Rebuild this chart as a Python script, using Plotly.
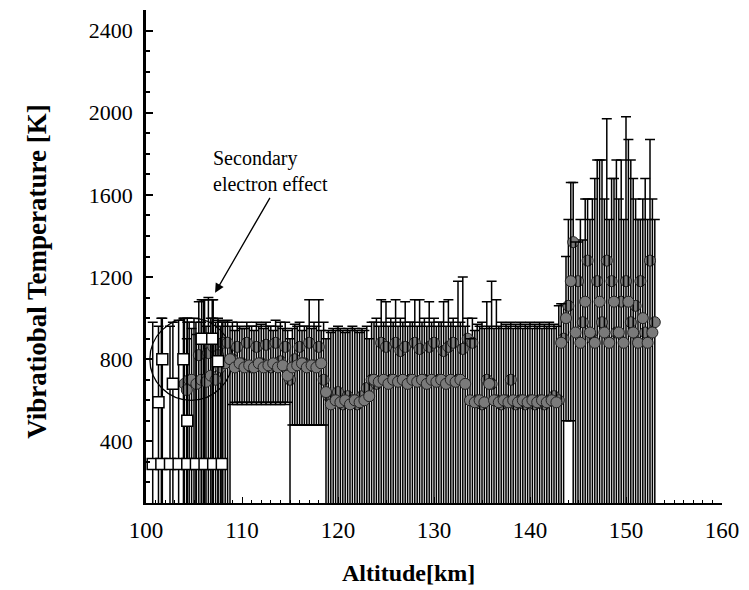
import plotly.graph_objects as go

# ---- filled-marker series A (altitude km, temperature K, upper end, lower end of error bar)
alt_a = [104.0, 104.5, 105.0, 105.5, 106.0, 106.5, 107.0, 107.5, 108.0,
         108.5, 109.0,
         109.5, 110.0, 110.5, 111.0, 111.5, 112.0, 112.5, 113.0, 113.5, 114.0, 114.5,
         115.0,
         115.5, 116.0, 116.5, 117.0, 117.5, 118.0, 118.5,
         119.0, 119.5, 120.0, 120.5, 121.0, 121.5, 122.0, 122.5, 123.0,
         123.5, 124.0, 124.5, 125.0, 125.5, 126.0, 126.5, 127.0, 127.5, 128.0, 128.5,
         129.0, 129.5, 130.0, 130.5, 131.0, 131.5, 132.0, 132.5, 133.0, 133.5,
         134.0, 134.5, 135.0, 135.5, 136.0, 136.5, 137.0, 137.5, 138.0, 138.5,
         139.0, 139.5, 140.0, 140.5, 141.0, 141.5, 142.0, 142.5, 143.0,
         143.5, 144.0, 144.5, 145.0, 145.5, 146.0, 146.5, 147.0, 147.5, 148.0,
         148.5, 149.0, 149.5, 150.0, 150.5, 151.0, 151.5, 152.0, 152.5, 153.0]
temp_a = [680, 700, 690, 820, 700, 830, 860, 820, 880,
          880, 800,
          860, 780, 880, 760, 860, 780, 870, 760, 880, 790, 860,
          700,
          800, 860, 780, 880, 770, 860, 700,
          620, 600, 640, 580, 620, 600, 580, 620, 660,
          700, 680, 880, 860, 700, 880, 840, 860, 700, 880, 850,
          700, 860, 880, 700, 840, 860, 880, 700, 850, 900,
          880, 600, 580, 700, 680, 600, 580, 600, 700, 580,
          600, 580, 600, 580, 600, 580, 600, 620, 600,
          900, 1060, 1370, 1180, 980, 1280, 900, 1180, 980, 1280,
          1180, 930, 1080, 1180, 980, 1060, 1180, 930, 1280, 980]
top_a = [1000, 980, 1000, 1080, 1090, 1100, 1000, 990, 980,
         990, 980,
         980, 950, 980, 960, 980, 970, 980, 960, 990, 980, 980,
         900,
         970, 980, 960, 1090, 980, 1090, 980,
         940, 950, 960, 940, 950, 960, 940, 950, 960,
         980, 1000, 1090, 1080, 1000, 1090, 1000, 1080, 980, 1090, 1090,
         1000, 1080, 1000, 980, 1080, 1090, 1000, 1180, 1200, 1000,
         1000, 970, 980, 1080, 1180, 1090, 980, 970, 980, 970,
         980, 970, 980, 970, 980, 970, 980, 970, 1060,
         1070, 1480, 1660, 1370, 1380, 1580, 1580, 1770, 1770, 1970,
         1680, 1770, 1770, 1980, 1770, 1580, 1480, 1680, 1870, 1480]
low_a = [0, 0, 0, 0, 0, 0, 0, 0, 0,
         0, 580,
         580, 580, 580, 580, 580, 580, 580, 580, 580, 580, 580,
         0,
         480, 480, 480, 480, 480, 480, 480,
         0, 0, 0, 0, 0, 0, 0, 0, 0,
         0, 0, 0, 0, 0, 0, 0, 0, 0, 0, 0,
         0, 0, 0, 0, 0, 0, 0, 0, 0, 0,
         0, 0, 0, 0, 0, 0, 0, 0, 0, 0,
         0, 0, 0, 0, 0, 0, 0, 0, 0,
         0, 500, 0, 0, 0, 0, 0, 0, 0, 0,
         0, 0, 0, 0, 0, 0, 0, 0, 0, 0]

# ---- filled-marker series B
alt_b = [104.25, 104.75, 105.25, 105.75, 106.25, 106.75, 107.25, 107.75, 108.25, 108.75,
         109.25, 109.75, 110.25, 110.75, 111.25, 111.75, 112.25, 112.75, 113.25, 113.75, 114.25,
         114.75,
         115.25, 115.75, 116.25, 116.75, 117.25, 117.75, 118.25, 118.75,
         119.25, 119.75, 120.25, 120.75, 121.25, 121.75, 122.25, 122.75,
         123.25, 123.75, 124.25, 124.75, 125.25, 125.75, 126.25, 126.75, 127.25, 127.75, 128.25,
         128.75, 129.25, 129.75, 130.25, 130.75, 131.25, 131.75, 132.25, 132.75, 133.25, 133.75,
         134.25, 134.75, 135.25, 135.75, 136.25, 136.75, 137.25, 137.75, 138.25, 138.75,
         139.25, 139.75, 140.25, 140.75, 141.25, 141.75, 142.25, 142.75, 143.25,
         143.75, 144.25, 144.75, 145.25, 145.75, 146.25, 146.75, 147.25, 147.75, 148.25,
         148.75, 149.25, 149.75, 150.25, 150.75, 151.25, 151.75, 152.25, 152.75]
temp_b = [650, 700, 680, 700, 690, 720, 700, 760, 780, 800,
          760, 780, 760, 770, 760, 780, 760, 770, 780, 760, 770,
          720,
          760, 770, 780, 760, 770, 760, 780, 640,
          580, 600, 590, 600, 580, 600, 590, 600,
          620, 700, 690, 700, 680, 700, 690, 700, 680, 700, 690,
          700, 680, 700, 690, 700, 680, 700, 690, 700, 680, 600,
          590, 600, 590, 680, 600, 590, 600, 590, 600, 590,
          600, 590, 600, 590, 600, 590, 600, 590, 880,
          1000, 1180, 930, 880, 1080, 930, 880, 1080, 930, 880,
          1080, 930, 880, 1080, 930, 880, 1000, 880, 930]
top_b = [900, 950, 920, 980, 960, 1000, 980, 960, 980, 960,
         940, 960, 950, 960, 940, 960, 950, 960, 940, 960, 950,
         940,
         950, 960, 940, 960, 950, 960, 940, 900,
         930, 940, 950, 930, 940, 950, 930, 940,
         900, 980, 960, 980, 960, 980, 960, 980, 960, 980, 960,
         980, 960, 980, 960, 980, 960, 980, 960, 980, 960, 900,
         940, 960, 950, 960, 950, 960, 950, 960, 950, 960,
         950, 960, 950, 960, 950, 960, 950, 960, 1070,
         1300, 1660, 1370, 1480, 1580, 1480, 1680, 1770, 1580, 1480,
         1680, 1580, 1480, 1870, 1680, 1480, 1580, 1480, 1580]
low_b = [0, 0, 0, 0, 0, 0, 0, 0, 0, 0,
         590, 590, 590, 590, 590, 590, 590, 590, 590, 590, 590,
         590,
         480, 480, 480, 480, 480, 480, 480, 0,
         0, 0, 0, 0, 0, 0, 0, 0,
         0, 0, 0, 0, 0, 0, 0, 0, 0, 0, 0,
         0, 0, 0, 0, 0, 0, 0, 0, 0, 0, 0,
         0, 0, 0, 0, 0, 0, 0, 0, 0, 0,
         0, 0, 0, 0, 0, 0, 0, 0, 0,
         500, 500, 0, 0, 0, 0, 0, 0, 0, 0,
         0, 0, 0, 0, 0, 0, 0, 0, 0]

# ---- open squares (secondary electron effect region)
sq_alt = [100.7, 101.6, 102.5, 103.4, 104.3, 105.2, 106.1, 107.0, 107.9,
          101.3, 101.7, 102.8, 103.9, 104.3, 105.8, 106.9, 107.5]
sq_temp = [290, 290, 290, 290, 290, 290, 290, 290, 290,
           590, 800, 680, 800, 500, 900, 900, 790]
sq_top = [980, 1000, 960, 990, 1000, 980, 1090, 1090, 980,
          960, 1000, 980, 1000, 980, 1090, 1090, 1000]
sq_low = [0] * 17

x_ticks = [100, 110, 120, 130, 140, 150, 160]
y_ticks = [400, 800, 1200, 1600, 2000, 2400]

FONT = "Liberation Serif"


def err(vals, tops, lows):
    return ([t - v for v, t in zip(vals, tops)], [v - l for v, l in zip(vals, lows)])


fig = go.Figure()
for xs, ys, tops, lows in [(alt_a, temp_a, top_a, low_a), (alt_b, temp_b, top_b, low_b)]:
    ep, em = err(ys, tops, lows)
    fig.add_trace(go.Scatter(
        x=xs, y=ys, mode="markers",
        marker=dict(symbol="circle", size=11, color="#7a7a7a", line=dict(color="#222", width=1)),
        error_y=dict(type="data", symmetric=False, array=ep, arrayminus=em,
                     color="black", thickness=1.5, width=5),
        showlegend=False, cliponaxis=True))

ep, em = err(sq_temp, sq_top, sq_low)
fig.add_trace(go.Scatter(
    x=sq_alt, y=sq_temp, mode="markers",
    marker=dict(symbol="square", size=11, color="white", line=dict(color="black", width=1.5)),
    error_y=dict(type="data", symmetric=False, array=ep, arrayminus=em,
                 color="black", thickness=1.5, width=5),
    showlegend=False))

# circle marking the region
fig.add_shape(type="circle", xref="x", yref="y", x0=100.4, x1=109.0, y0=600, y1=1000,
              line=dict(color="black", width=1.3), layer="below")

fig.add_annotation(x=107.2, y=1124, ax=113.0, ay=1593, axref="x", ayref="y",
                   xref="x", yref="y", text="", showarrow=True,
                   arrowhead=2, arrowsize=1.4, arrowwidth=1.3, arrowcolor="black")
fig.add_annotation(x=106.75, y=1715, xref="x", yref="y", xanchor="left", yanchor="middle",
                   text="Secondary<br>electron effect", showarrow=False, align="left",
                   font=dict(family=FONT, size=20, color="black"))

fig.add_annotation(x=0.455, y=-0.172, xref="paper", yref="paper", showarrow=False,
                   text="<b>Altitude[km]</b>", font=dict(family=FONT, size=24, color="black"))
fig.add_annotation(x=-0.218, y=0.47, xref="paper", yref="paper", showarrow=False,
                   textangle=-90, text="<b>Vibratiobal Temperature [K]</b>",
                   font=dict(family=FONT, size=27, color="black"))

fig.update_layout(
    width=749, height=590,
    margin=dict(l=146, r=20, t=10, b=87),
    paper_bgcolor="white", plot_bgcolor="white",
    font=dict(family=FONT, color="black"),
    showlegend=False,
)
fig.update_xaxes(range=[100, 160], tickvals=x_ticks, showgrid=False, zeroline=False,
                 showline=True, linecolor="black", linewidth=1.5,
                 ticks="inside", ticklen=6, tickcolor="black",
                 minor=dict(ticks="inside", ticklen=3, dtick=1, tickcolor="black"),
                 tickfont=dict(family=FONT, size=23, color="black"), ticklabelstandoff=6,
                 ticklabeloverflow="allow")
fig.update_yaxes(range=[100, 2500], tickvals=y_ticks, showgrid=False, zeroline=False,
                 showline=True, linecolor="black", linewidth=2.5,
                 ticks="inside", ticklen=7, tickwidth=1.5, tickcolor="black",
                 minor=dict(ticks="inside", ticklen=4, dtick=100, tickcolor="black"),
                 tickfont=dict(family=FONT, size=22, color="black"), ticklabelstandoff=6)

fig.write_html("out.html")
